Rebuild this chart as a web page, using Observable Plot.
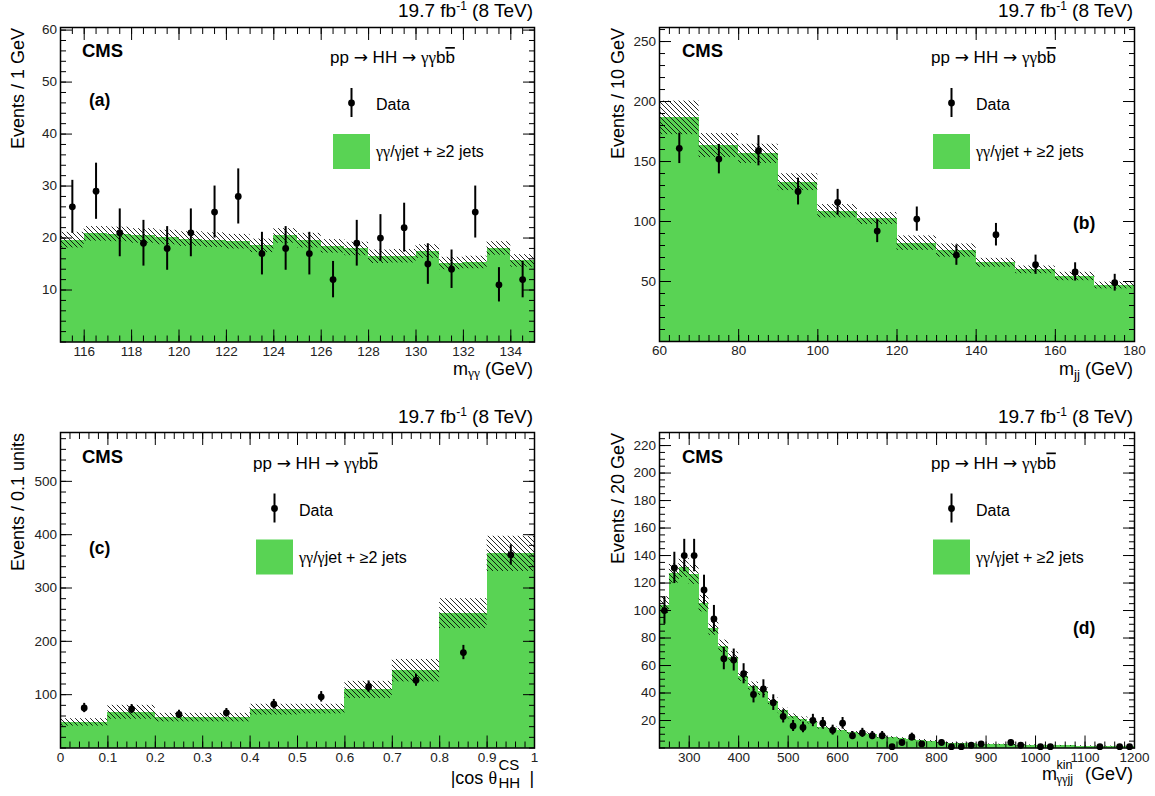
<!DOCTYPE html>
<html><head><meta charset="utf-8">
<script src="https://cdn.jsdelivr.net/npm/d3@7"></script>
<script src="https://cdn.jsdelivr.net/npm/@observablehq/plot@0.6"></script>
<style>
body{margin:0;background:#fff;}
#wrap{position:relative;width:1155px;height:796px;overflow:hidden;background:#fff;}
#wrap svg{position:absolute;}
</style></head><body><div id="wrap"></div>
<script>
const FONT = '"Liberation Sans", Arial, Helvetica, sans-serif';
const GREEK_FONT = '"Liberation Serif", "Times New Roman", serif';
const ARROW_FONT = '"DejaVu Sans", sans-serif';
const GREEN = "#59d354";

// ---------- Panel (a): m_gammagamma ----------
const aLow  = [115,116,117,118,119,120,121,122,123,124,125,126,127,128,129,130,131,132,133,134];
const aBkg  = [19.6,20.8,20.7,20.4,20.1,19.8,19.6,19.3,18.5,20.4,19.5,18.4,17.9,16.4,16.5,17.4,15.1,15.3,18.0,15.6];
const aUnc  = [1.5,1.4,1.4,1.4,1.4,1.4,1.4,1.4,1.3,1.4,1.4,1.3,1.3,1.3,1.3,1.3,1.2,1.2,1.3,1.2];
const aData = [26,29,21,19,18,21,25,28,17,18,17,12,19,20,22,15,14,25,11,12];
const aErr  = [5.1,5.4,4.6,4.4,4.2,4.6,5.0,5.3,4.1,4.2,4.1,3.5,4.4,4.5,4.7,3.9,3.7,5.0,3.3,3.5];
const aXTicks = [116,118,120,122,124,126,128,130,132,134];
const aYTicks = [10,20,30,40,50,60];

// ---------- Panel (b): m_jj ----------
const bLow  = [60,70,80,90,100,110,120,130,140,150,160,170];
const bBkg  = [186.4,163.3,156.4,132.8,108.6,102.5,82.0,75.8,65.6,59.7,54.2,46.7];
const bUnc  = [14,10,8,7,5.5,5,6,5.5,3.7,3.2,3.5,2.8];
const bData = [161,152,159,125,116,92,102,72,89,64,58,49];
const bErr  = [12.7,12.3,12.6,11.2,10.8,9.6,10.1,8.5,9.4,8.0,7.6,7.0];
const bXTicks = [60,80,100,120,140,160,180];
const bYTicks = [50,100,150,200,250];

// ---------- Panel (c): |cos theta_HH^CS| ----------
const cLow  = [0,0.1,0.2,0.3,0.4,0.5,0.6,0.7,0.8,0.9];
const cBkg  = [48,67,57,57,72,73,109,145,252,364];
const cUnc  = [7,13,8,8,10,9,16,21,28,33];
const cData = [75,73,63,66,82,96,115,127,179,362];
const cErr  = [8.7,8.5,7.9,8.1,9.1,9.8,10.7,11.3,13.4,19.0];
const cXTicks = [0,0.1,0.2,0.3,0.4,0.5,0.6,0.7,0.8,0.9,1];
const cYTicks = [100,200,300,400,500];

// ---------- Panel (d): m^kin_gammagammajj ----------
const dLow  = [240,260,280,300,320,340,360,380,400,420,440,460,480,500,520,540,560,580,600,620,
               640,660,680,700,720,740,760,780,800,820,840,860,880,900,920,940,960,980,1000,1020,
               1040,1060,1080,1100,1120,1140,1160,1180];
const dBkg  = [104,127,131,126,105,87,74,66,52,45,41,34,27,23,21,19,15,14,13,11,
               10.5,10,8,7.5,6.7,6,5.5,4.8,4,3.5,3.2,3,2.8,2.6,2.4,2.2,2.0,1.9,1.8,1.7,
               1.6,1.5,1.4,1.3,1.2,1.1,1.0,1.0];
const dUnc  = [6,7,7,7,6,5,4.5,4,3.5,3,2.8,2.4,2,1.8,1.6,1.5,1.3,1.2,1.1,1,
               1,1,0.9,0.8,0.8,0.7,0.7,0.6,0.6,0.5,0.5,0.5,0.5,0.4,0.4,0.4,0.4,0.4,0.3,0.3,
               0.3,0.3,0.3,0.3,0.3,0.3,0.3,0.3];
const dData = [100,131,140,140,115,94,65,64,54,39,43,33,23,16,15,20,18,13,18,9,
               11,9,9,1,4,8,3,0,4,1,1,2,3,0,0,4,2,0,1,1,
               0,0,0,0,1,0,1,1];
const dErr  = [10,11.4,11.8,11.8,10.7,9.7,8.1,8,7.3,6.2,6.6,5.7,4.8,4,3.9,4.5,4.2,3.6,4.2,3,
               3.3,3,3,1,2,2.8,1.7,0,2,1,1,1.4,1.7,0,0,2,1.4,0,1,1,
               0,0,0,0,1,0,1,1];
const dXTicks = [300,400,500,600,700,800,900,1000,1100,1200];
const dYTicks = [20,40,60,80,100,120,140,160,180,200,220];

const panels = [
  {id:"a", left:0, top:0, w:578, ml:60, mr:44, mt:27, mb:56.5,
   low:aLow, width:1, bkg:aBkg, unc:aUnc, data:aData, err:aErr,
   xDomain:[115,135], yDomain:[0,60.5], xMajor:aXTicks, xMinor:d3.range(115,135.01,0.5),
   yMajor:aYTicks, yMinor:d3.range(0,60.5,2),
   yTitle:"Events / 1 GeV", tag:"(a)", tagPos:[89,106], cmsX:82, procX:330, legX:333, base:0, ytx:23.5,
   xTitle:{type:"sub", pre:"m", sub:"γγ", subDy:2, post:" (GeV)", right:533, base:375}},
  {id:"b", left:578, top:0, w:577, ml:81, mr:21, mt:27, mb:57,
   low:bLow, width:10, bkg:bBkg, unc:bUnc, data:bData, err:bErr,
   xDomain:[60,180], yDomain:[0,261.7], xMajor:bXTicks, xMinor:d3.range(60,180.01,2.5),
   yMajor:bYTicks, yMinor:d3.range(0,261,10),
   yTitle:"Events / 10 GeV", tag:"(b)", tagPos:[495,229], cmsX:104, procX:353, legX:355, base:0, ytx:45.5,
   xTitle:{type:"sub", pre:"m", sub:"jj", subDy:4, post:" (GeV)", right:555, base:375}},
  {id:"c", left:0, top:398, w:578, ml:60, mr:44, mt:34, mb:48.5,
   low:cLow, width:0.1, bkg:cBkg, unc:cUnc, data:cData, err:cErr,
   xDomain:[0,1], yDomain:[0,591.6], xMajor:cXTicks, xMinor:d3.range(0,1.001,0.02),
   yMajor:cYTicks, yMinor:d3.range(0,591,20),
   yTitle:"Events / 0.1 units", tag:"(c)", tagPos:[89,156], cmsX:82, procX:253, legX:256, base:7.5, ytx:23.5,
   xTitle:{type:"stack", pre:"|cos θ", preX:497, preAnchor:"end", sup:"CS", sub:"HH", scriptX:498.5, scriptSize:15,
           supY:372, subY:390, post:"|", postX:529.5, postAnchor:"start", base:386}},
  {id:"d", left:578, top:398, w:577, ml:81, mr:21, mt:34, mb:48.5,
   low:dLow, width:20, bkg:dBkg, unc:dUnc, data:dData, err:dErr,
   xDomain:[240,1200], yDomain:[0,229.5], xMajor:dXTicks, xMinor:d3.range(240,1200.1,20),
   yMajor:dYTicks, yMinor:d3.range(0,229,5),
   yTitle:"Events / 20 GeV", tag:"(d)", tagPos:[495,236], cmsX:104, procX:353, legX:355, base:7.5, ytx:45.5,
   xTitle:{type:"stack", pre:"m", preX:464, preAnchor:"start", sup:"kin", sub:"γγjj", scriptX:478.5, scriptSize:12.5,
           supY:371, subY:385, post:"(GeV)", postX:555, postAnchor:"end", base:382}}
];

const wrap = document.getElementById("wrap");

// split a string into runs so Greek letters / arrows get a symbol-like font
function runs(str) {
  const out = [];
  for (const ch of str) {
    const f = /[γθ]/.test(ch) ? GREEK_FONT : ch === "→" ? ARROW_FONT : null;
    const last = out[out.length - 1];
    if (last && last.f === f) last.t += ch; else out.push({t: ch, f});
  }
  return out;
}
function fillRuns(t, str, first = {}) {
  runs(str).forEach((r, i) => {
    const s = t.append("tspan").text(r.t);
    if (r.f) s.attr("font-family", r.f);
    if (i === 0 && first.dy != null) s.attr("dy", first.dy);
    if (first.size != null) s.attr("font-size", first.size);
    if (first.over) s.style("text-decoration", "overline");
  });
}
function addText(g, x, y, parts, {anchor="start", size=16, weight="normal"} = {}) {
  const t = g.append("text").attr("x", x).attr("y", y).attr("text-anchor", anchor)
    .attr("font-size", size).attr("font-weight", weight).attr("fill", "black")
    .attr("font-family", FONT);
  for (const p of parts) {
    if (typeof p === "string") fillRuns(t, p);
    else fillRuns(t, p.t, p);
  }
  return t;
}

for (const P of panels) {
  const rows = P.low.map((lo, i) => ({lo, hi: lo + P.width, c: lo + P.width / 2,
    bkg: P.bkg[i], unc: P.unc[i], n: P.data[i], err: P.err[i]}));
  const pts = rows.filter(d => d.n > 0);
  const hatchId = "hatch-" + P.id;
  const plot = Plot.plot({
    width: P.w, height: 398,
    marginLeft: P.ml, marginRight: P.mr, marginTop: P.mt, marginBottom: P.mb,
    x: {domain: P.xDomain}, y: {domain: P.yDomain},
    style: {fontFamily: FONT, fontSize: "13.5px", color: "black", background: "white", overflow: "visible"},
    marks: [
      Plot.rect(rows, {x1: "lo", x2: "hi", y1: () => 0, y2: "bkg", fill: GREEN, shapeRendering: "crispEdges"}),
      Plot.rect(rows, {x1: "lo", x2: "hi", y1: d => d.bkg - d.unc, y2: d => d.bkg + d.unc, fill: `url(#${hatchId})`}),
      Plot.ruleX(pts, {x: "c", y1: d => d.n - d.err, y2: d => d.n + d.err, stroke: "black", strokeWidth: 2}),
      Plot.dot(pts, {x: "c", y: "n", r: 3.4, fill: "black"}),
      Plot.axisX({ticks: P.xMinor, anchor: "bottom", tickSize: -6, fill: "none", label: null}),
      Plot.axisX({ticks: P.xMinor, anchor: "top", tickSize: -6, fill: "none", label: null}),
      Plot.axisX({ticks: P.xMajor, anchor: "bottom", tickSize: -12, tickPadding: 16, tickFormat: d => String(d), fill: "#222", label: null}),
      Plot.axisX({ticks: P.xMajor, anchor: "top", tickSize: -12, fill: "none", label: null}),
      Plot.axisY({ticks: P.yMinor, anchor: "left", tickSize: -6, fill: "none", label: null}),
      Plot.axisY({ticks: P.yMinor, anchor: "right", tickSize: -6, fill: "none", label: null}),
      Plot.axisY({ticks: P.yMajor, anchor: "left", tickSize: -12, tickPadding: 15.5, tickFormat: d => String(d), fill: "#222", label: null}),
      Plot.axisY({ticks: P.yMajor, anchor: "right", tickSize: -12, fill: "none", label: null}),
      Plot.frame({stroke: "black", strokeWidth: 1.5})
    ]
  });
  plot.style.left = P.left + "px";
  plot.style.top = P.top + "px";
  wrap.appendChild(plot);

  const svg = d3.select(plot);
  const defs = svg.insert("defs", ":first-child");
  const pat = defs.append("pattern").attr("id", hatchId).attr("patternUnits", "userSpaceOnUse")
    .attr("width", 5).attr("height", 5);
  pat.append("path").attr("d", "M-1,-1L6,6M-1,4L1,6M4,-1L6,1")
    .attr("stroke", "black").attr("stroke-width", 0.85).attr("fill", "none");

  const g = svg.append("g").attr("class", "annot").attr("text-anchor", "start");
  const B = P.base;
  const frameRight = P.w - P.mr;

  // luminosity
  addText(g, frameRight - 1, 17 + B, ["19.7 fb", {t: "-1", dy: -7, size: 12}, {t: " (8 TeV)", dy: 7}],
    {anchor: "end", size: 19});
  // CMS
  addText(g, P.cmsX, 57 + B, ["CMS"], {size: 18.5, weight: "bold"});
  // panel tag
  addText(g, P.tagPos[0], P.tagPos[1], [P.tag], {size: 17.5, weight: "bold"});
  // process
  addText(g, P.procX, 63 + B, ["pp → HH → γγb", {t: "b", over: true}], {size: 17});
  // legend: data
  const lx = P.legX;
  g.append("line").attr("x1", lx + 18.5).attr("x2", lx + 18.5).attr("y1", 88 + B).attr("y2", 117 + B)
    .attr("stroke", "black").attr("stroke-width", 2);
  g.append("circle").attr("cx", lx + 18.5).attr("cy", 103 + B).attr("r", 3.4).attr("fill", "black");
  addText(g, lx + 43, 110 + B, ["Data"], {size: 16});
  // legend: background
  g.append("rect").attr("x", lx).attr("y", 134 + B).attr("width", 37).attr("height", 35).attr("fill", GREEN);
  addText(g, lx + 43, 157 + B, ["γγ/γjet + ≥2 jets"], {size: 16});

  // y title
  g.append("text").attr("transform", `translate(${P.ytx},${P.mt + 1}) rotate(-90)`)
    .attr("text-anchor", "end").attr("font-size", 18).attr("font-family", FONT).attr("fill", "black")
    .text(P.yTitle);

  // x title
  const T = P.xTitle;
  if (T.type === "sub") {
    addText(g, T.right, T.base, [T.pre, {t: T.sub, dy: T.subDy, size: 13.5}, {t: T.post, dy: -T.subDy}],
      {anchor: "end", size: 18});
  } else {
    addText(g, T.preX, T.base, [T.pre], {size: 18, anchor: T.preAnchor});
    addText(g, T.scriptX, T.supY, [T.sup], {size: T.scriptSize});
    addText(g, T.scriptX, T.subY, [T.sub], {size: T.scriptSize});
    addText(g, T.postX, T.base, [T.post], {size: 18, anchor: T.postAnchor});
  }
}
</script>
</body></html>
